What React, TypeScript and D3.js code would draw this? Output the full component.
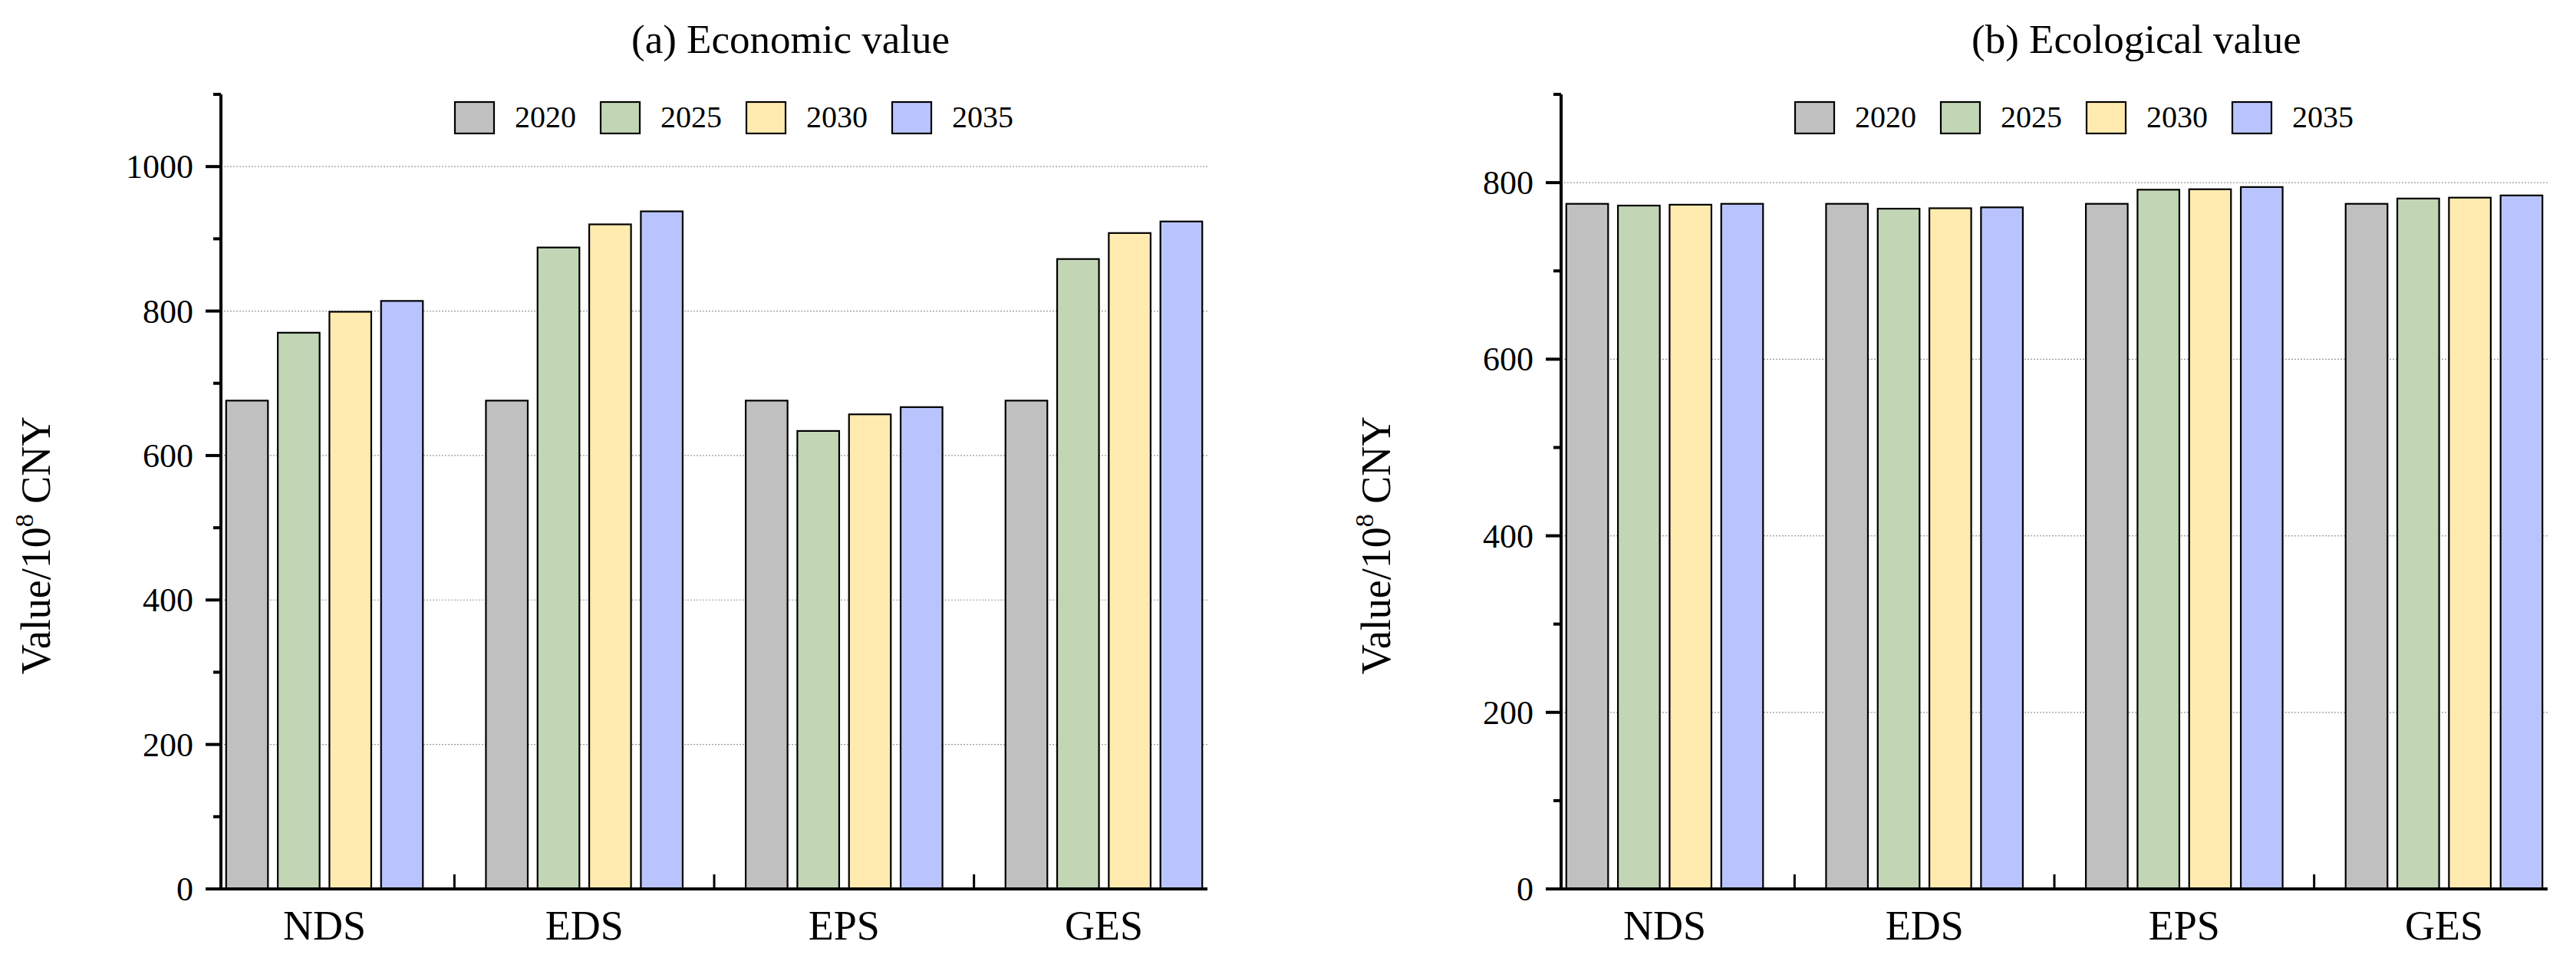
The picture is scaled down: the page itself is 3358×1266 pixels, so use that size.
import * as d3 from 'd3';

const W = 3358;
const H = 1266;

const categories = ['NDS', 'EDS', 'EPS', 'GES'];
const years = ['2020', '2025', '2030', '2035'];
const colors = ['#C0C0C0', '#C2D6B6', '#FFEBB0', '#B9C4FE'];

// (a) Economic value, one array per year across categories
const econ2020 = [676, 676, 676, 676];
const econ2025 = [770, 888, 634, 872];
const econ2030 = [799, 920, 657, 908];
const econ2035 = [814, 938, 667, 924];

// (b) Ecological value
const ecol2020 = [776, 776, 776, 776];
const ecol2025 = [774, 770.5, 792, 782];
const ecol2030 = [775, 771, 792.5, 783];
const ecol2035 = [776, 772, 795, 785.5];

const econTicks = [0, 200, 400, 600, 800, 1000];
const ecolTicks = [0, 200, 400, 600, 800];

const FONT = '"Liberation Serif", "Times New Roman", serif';
const TOP = 123;
const BOTTOM = 1159;
const PLOT_W = 1286;

interface PanelProps {
  left: number;
  title: string;
  yMax: number;
  ticks: number[];
  series: number[][];
}

function Panel({ left, title, yMax, ticks, series }: PanelProps) {
  const right = left + PLOT_W;
  const y = d3.scaleLinear().domain([0, yMax]).range([BOTTOM, TOP]);
  const x0 = d3
    .scaleBand<string>()
    .domain(categories)
    .range([left, right])
    .paddingInner(0.2426)
    .paddingOuter(0.02);
  const x1 = d3
    .scaleBand<string>()
    .domain(years)
    .range([0, x0.bandwidth()])
    .paddingInner(0.19);
  const minor = d3.range(100, yMax + 1, 200);
  const sepX = categories
    .slice(0, -1)
    .map((c) => (x0(c) ?? 0) + x0.bandwidth() + (x0.step() * x0.paddingInner()) / 2);

  return (
    <g>
      <text x={left + 535} y={69} fontFamily={FONT} fontSize={53}>
        {title}
      </text>

      {/* gridlines */}
      {ticks
        .filter((t) => t > 0)
        .map((t) => (
          <line
            key={'g' + t}
            x1={left}
            x2={right}
            y1={y(t)}
            y2={y(t)}
            stroke="#9a9a9a"
            strokeWidth={1.2}
            strokeDasharray="2 2"
          />
        ))}

      {/* bars */}
      {categories.map((c, ci) => (
        <g key={c} transform={`translate(${x0(c)},0)`}>
          {years.map((yr, si) => (
            <rect
              key={yr}
              x={x1(yr)}
              y={y(series[si][ci])}
              width={x1.bandwidth()}
              height={y(0) - y(series[si][ci])}
              fill={colors[si]}
              stroke="#000"
              strokeWidth={2.2}
            />
          ))}
        </g>
      ))}

      {/* y axis */}
      <line x1={left} x2={left} y1={TOP} y2={BOTTOM} stroke="#000" strokeWidth={4} />
      {ticks.map((t) => (
        <g key={'t' + t}>
          <line x1={left - 20} x2={left} y1={y(t)} y2={y(t)} stroke="#000" strokeWidth={4} />
          <text
            x={left - 36}
            y={y(t)}
            dy="0.34em"
            textAnchor="end"
            fontFamily={FONT}
            fontSize={44}
          >
            {t}
          </text>
        </g>
      ))}
      {minor.map((t) => (
        <line key={'m' + t} x1={left - 10} x2={left} y1={y(t)} y2={y(t)} stroke="#000" strokeWidth={4} />
      ))}

      {/* x axis */}
      <line x1={left - 20} x2={right} y1={BOTTOM} y2={BOTTOM} stroke="#000" strokeWidth={4} />
      {sepX.map((sx, i) => (
        <line key={'s' + i} x1={sx} x2={sx} y1={BOTTOM} y2={BOTTOM - 19} stroke="#000" strokeWidth={3} />
      ))}
      {categories.map((c) => (
        <text
          key={'c' + c}
          x={(x0(c) ?? 0) + x0.bandwidth() / 2}
          y={1225}
          textAnchor="middle"
          fontFamily={FONT}
          fontSize={54}
        >
          {c}
        </text>
      ))}

      {/* y label */}
      <text
        transform={`translate(${left - 223},711) rotate(-90)`}
        textAnchor="middle"
        fontFamily={FONT}
        fontSize={54}
      >
        Value/10
        <tspan fontSize={34} dy={-22}>
          8
        </tspan>
        <tspan dy={22}> CNY</tspan>
      </text>

      {/* legend */}
      {years.map((yr, i) => {
        const lx = left + 305 + i * 190;
        return (
          <g key={'l' + yr}>
            <rect x={lx} y={133} width={51} height={41} fill={colors[i]} stroke="#000" strokeWidth={2.2} />
            <text x={lx + 78} y={166} fontFamily={FONT} fontSize={40}>
              {yr}
            </text>
          </g>
        );
      })}
    </g>
  );
}

export default function App() {
  return (
    <svg
      width={W}
      height={H}
      viewBox={`0 0 ${W} ${H}`}
      style={{ position: 'absolute', left: 0, top: 0, background: '#fff' }}
    >
      <rect width={W} height={H} fill="#fff" />
      <Panel
        left={288}
        title="(a) Economic value"
        yMax={1100}
        ticks={econTicks}
        series={[econ2020, econ2025, econ2030, econ2035]}
      />
      <Panel
        left={2035}
        title="(b) Ecological value"
        yMax={900}
        ticks={ecolTicks}
        series={[ecol2020, ecol2025, ecol2030, ecol2035]}
      />
    </svg>
  );
}
